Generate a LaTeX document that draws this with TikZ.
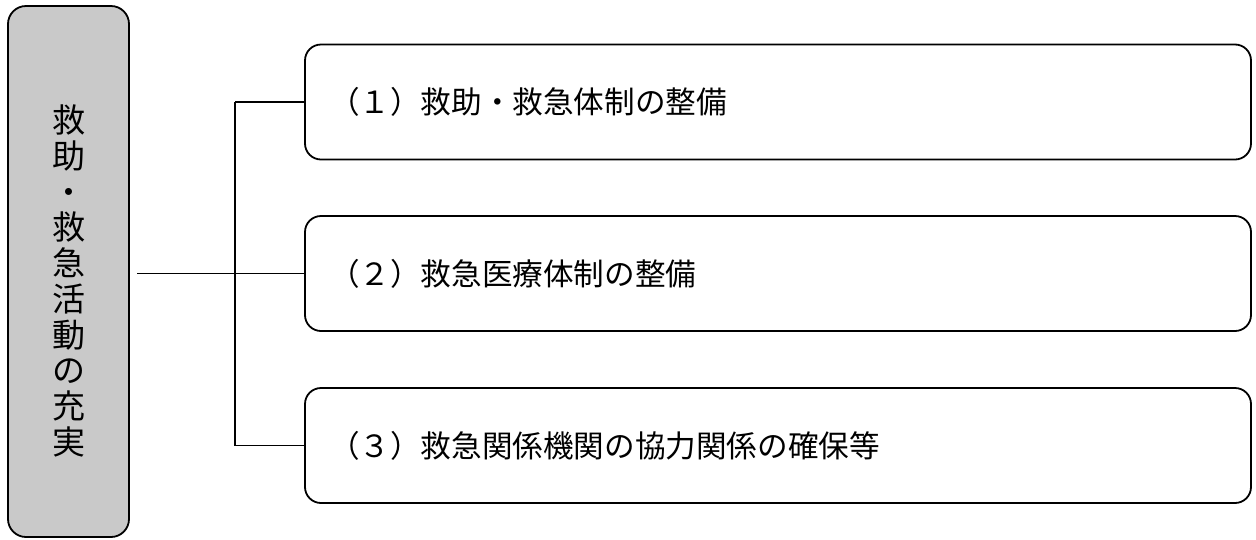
\documentclass[tikz,border=0pt]{standalone}
\usepackage{fontspec}
\newfontfamily\jp{Noto Sans CJK JP}
\begin{document}
\begin{tikzpicture}[x=1pt,y=-1pt,
  leftbox/.style={draw=black,line width=1.8pt,fill=gray!42,rounded corners=18pt,
    minimum width=121pt,minimum height=531pt,inner sep=0pt,align=center,
    font=\jp\fontsize{33}{35.7}\selectfont},
  itembox/.style={draw=black,line width=1.8pt,rounded corners=16pt,
    minimum height=115pt,inner xsep=24pt,inner ysep=0pt,text width=898pt,align=left,
    font=\jp\fontsize{30.6}{34}\selectfont},
  link/.style={draw=black,line width=1.5pt}]
\useasboundingbox (0,0) rectangle (1256,539);
\node[leftbox] (lb) at (68.5,271.5) {};
\node[font=\jp\fontsize{33}{35.7}\selectfont,align=center,inner sep=0pt] (lt) at (68.5,281)
  {救\\助\\・\\救\\急\\活\\動\\の\\充\\実};
\node[itembox] (b1) at (778,102) {（１）救助・救急体制の整備};
\node[itembox] (b2) at (778,273.5) {（２）救急医療体制の整備};
\node[itembox] (b3) at (778,445.5) {（３）救急関係機関の協力関係の確保等};
\coordinate (j) at (235,273.5);
\coordinate (s) at (137,273.5);
\draw[link] (s) -- (b2.west);
\draw[link] (j |- b1.west) -- (j |- b3.west);
\draw[link] (j |- b1.west) -- (b1.west);
\draw[link] (j |- b3.west) -- (b3.west);
\end{tikzpicture}
\end{document}
